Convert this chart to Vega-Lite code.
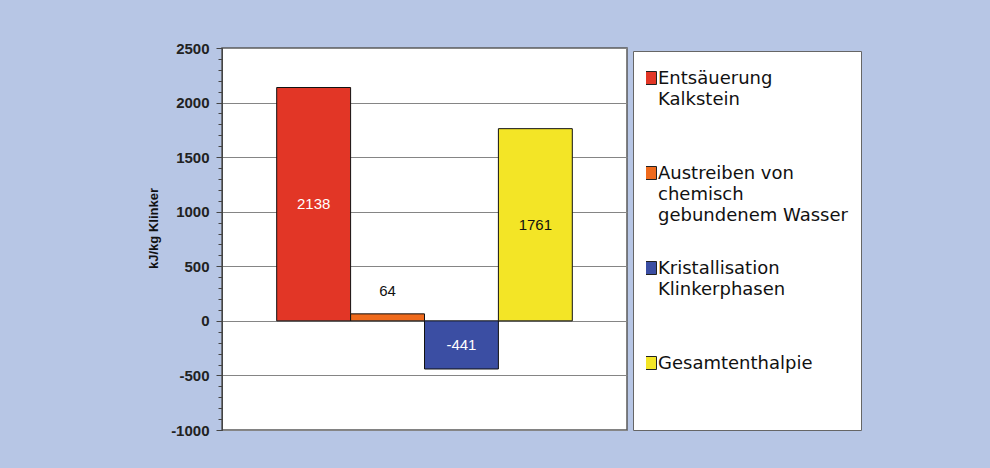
{
  "$schema": "https://vega.github.io/schema/vega-lite/v6.json",
  "width": 405,
  "height": 382,
  "autosize": "none",
  "padding": {"left": 222, "top": 48, "right": 363, "bottom": 38},
  "background": "#b7c6e5",
  "config": {
    "view": {"fill": "white", "stroke": "#5a5a5a", "strokeWidth": 1.5},
    "font": "DejaVu Sans"
  },
  "data": {"values": [
    {"series": "Entsäuerung Kalkstein", "value": 2138},
    {"series": "Austreiben von chemisch gebundenem Wasser", "value": 64},
    {"series": "Kristallisation Klinkerphasen", "value": -441},
    {"series": "Gesamtenthalpie", "value": 1761}
  ]},
  "resolve": {"axis": {"y": "independent"}},
  "layer": [
    {
      "mark": {"type": "bar", "stroke": "#111111", "strokeWidth": 1},
      "encoding": {
        "x": {"field": "series", "type": "nominal", "sort": null, "scale": {"paddingInner": 0, "paddingOuter": 0.74}, "axis": null},
        "y": {"field": "value", "type": "quantitative", "scale": {"domain": [-1000, 2500], "nice": false, "zero": false},
          "axis": {"orient": "left", "values": [-1000, -500, 0, 500, 1000, 1500, 2000, 2500], "labelExpr": "toString(datum.value)", "title": "kJ/kg Klinker",
            "titleFont": "Liberation Sans", "titleFontSize": 13, "titleFontWeight": "bold", "titleColor": "#111111", "titlePadding": 10, "titleY": 180,
            "labelFont": "Liberation Sans", "labelFontSize": 15, "labelFontWeight": "bold", "labelColor": "#222222", "labelPadding": 7,
            "tickSize": 6, "tickColor": "#444444", "domainColor": "#444444",
            "grid": true, "gridColor": "#858585", "gridWidth": 1}},
        "color": {"field": "series", "type": "nominal", "sort": null,
          "scale": {"domain": ["Entsäuerung Kalkstein", "Austreiben von chemisch gebundenem Wasser", "Kristallisation Klinkerphasen", "Gesamtenthalpie"],
            "range": ["#e23626", "#ef6a1c", "#3b4ea3", "#f3e526"]},
          "legend": {"orient": "none", "legendX": 411, "legendY": 3, "title": null,
            "fillColor": "white", "strokeColor": "#666666", "padding": 13,
            "symbolType": "square", "symbolSize": 169, "symbolStrokeColor": "#222222", "symbolStrokeWidth": 1,
            "symbolOffset": -5, "labelOffset": -1,
            "labelFont": "DejaVu Sans", "labelFontSize": 18, "labelColor": "#111111", "labelLimit": 400, "labelBaseline": "top",
            "clipHeight": 68, "rowPadding": 27,
            "labelExpr": "datum.label == 'Entsäuerung Kalkstein' ? ['Entsäuerung', 'Kalkstein'] : datum.label == 'Austreiben von chemisch gebundenem Wasser' ? ['Austreiben von', 'chemisch', 'gebundenem Wasser'] : datum.label == 'Kristallisation Klinkerphasen' ? ['Kristallisation', 'Klinkerphasen'] : datum.label",
            "encode": {
              "symbols": {"update": {"y": {"value": 14}}},
              "labels": {"update": {"y": {"value": 6}, "lineHeight": {"value": 21}}}
            }}
        }
      }
    },
    {
      "transform": [
        {"filter": "datum.series != 'Austreiben von chemisch gebundenem Wasser'"},
        {"calculate": "datum.value / 2", "as": "labelAnchor"}
      ],
      "mark": {"type": "text", "fontSize": 15, "font": "Liberation Sans", "baseline": "middle"},
      "encoding": {
        "x": {"field": "series", "type": "nominal", "sort": null},
        "y": {"field": "labelAnchor", "type": "quantitative", "axis": null},
        "text": {"field": "value", "type": "nominal"},
        "fill": {"condition": {"test": "datum.value > 2000 || datum.value < 0", "value": "white"}, "value": "#111111"}
      }
    },
    {
      "transform": [{"filter": "datum.series == 'Austreiben von chemisch gebundenem Wasser'"}],
      "mark": {"type": "text", "fontSize": 15, "font": "Liberation Sans", "baseline": "bottom", "dy": -15, "fill": "#111111"},
      "encoding": {
        "x": {"field": "series", "type": "nominal", "sort": null},
        "y": {"field": "value", "type": "quantitative", "axis": null},
        "text": {"field": "value", "type": "nominal"}
      }
    },
    {
      "mark": {"type": "point", "opacity": 0},
      "encoding": {
        "x": {"field": "series", "type": "nominal", "sort": null},
        "y": {"field": "value", "type": "quantitative",
          "axis": {"orient": "left", "values": [-1000, -900, -800, -700, -600, -500, -400, -300, -200, -100, 0, 100, 200, 300, 400, 500, 600, 700, 800, 900, 1000, 1100, 1200, 1300, 1400, 1500, 1600, 1700, 1800, 1900, 2000, 2100, 2200, 2300, 2400, 2500],
            "labels": false, "title": null, "grid": false, "domain": false, "tickSize": 4, "tickColor": "#444444"}}
      }
    }
  ]
}
